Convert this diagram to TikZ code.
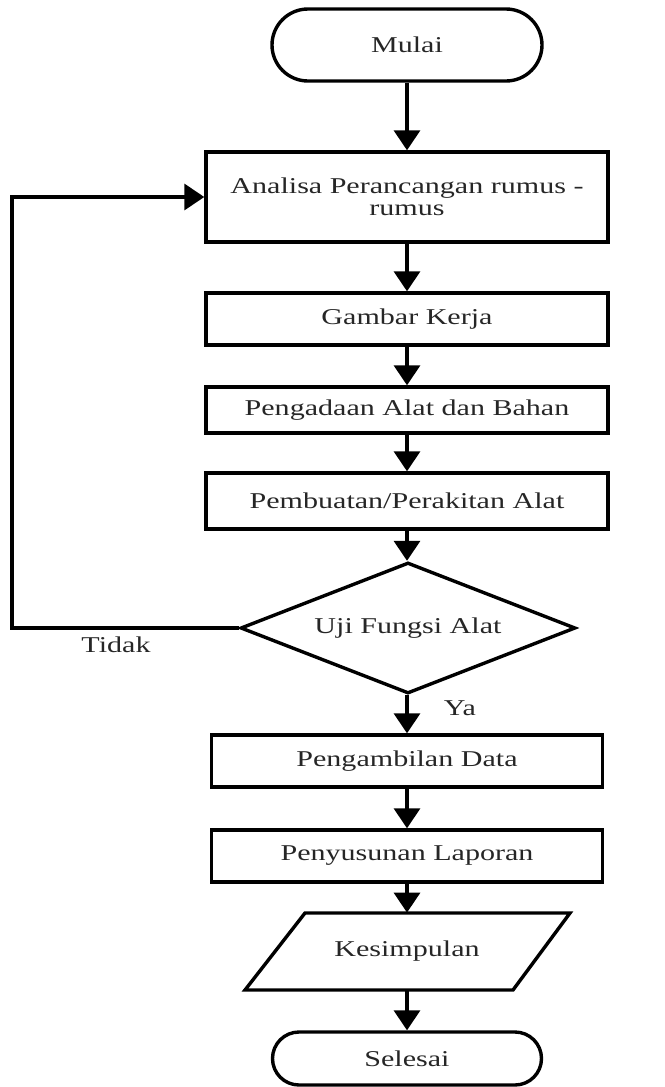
\documentclass[tikz,border=0pt]{standalone}
\usepackage{fontspec}
\setmainfont{Liberation Serif}[FakeStretch=1.33]
\usetikzlibrary{arrows.meta,shapes.geometric}
\begin{document}
\begin{tikzpicture}[x=0.5pt,y=-0.5pt,
  every node/.style={font=\fontsize{11.3pt}{11pt}\selectfont, text=black!85},
  ln/.style={line width=1.7pt},
  proc/.style={ln, draw, rectangle, inner sep=0pt, align=center},
  term/.style={ln, draw, rectangle, inner sep=0pt},
  arr/.style={ln, -{Triangle[length=10pt,width=13pt]}},
]
\useasboundingbox (0,0) rectangle (664,1087);

\node[term, minimum width=135pt, minimum height=36pt, rounded corners=18pt] (mulai) at (407,45) {Mulai};
\node[proc, minimum width=201pt, minimum height=45pt] (analisa) at (407,197) {Analisa Perancangan rumus -\\rumus};
\node[proc, minimum width=201pt, minimum height=26pt] (gambar) at (407,319) {Gambar Kerja};
\node[proc, minimum width=201pt, minimum height=23pt] (pengadaan) at (407,410) {Pengadaan Alat dan Bahan};
\node[proc, minimum width=201pt, minimum height=28pt] (pembuatan) at (407,501) {Pembuatan/Perakitan Alat};
\node[ln, draw, diamond, aspect=2.56, minimum width=167.5pt, minimum height=65.5pt, inner sep=0pt] (uji) at (408,628) {Uji Fungsi Alat};
\node[proc, minimum width=195.5pt, minimum height=26pt] (pengambilan) at (407,761) {Pengambilan Data};
\node[proc, minimum width=195.5pt, minimum height=26pt] (penyusunan) at (407,856) {Penyusunan Laporan};
\node[inner sep=0pt, minimum height=38.5pt] (kes) at (407,951.5) {Kesimpulan};
\draw[ln] (305,913) -- (570,913) -- (513,990) -- (245,990) -- cycle;
\node[term, minimum width=134.5pt, minimum height=26.5pt, rounded corners=13.25pt] (selesai) at (407,1058.5) {Selesai};

\node (tidak) at (116,645) {Tidak};
\node (ya) at (460,708) {Ya};

\draw[arr] (mulai.south) -- (analisa.north);
\draw[arr] (analisa.south) -- (gambar.north);
\draw[arr] (gambar.south) -- (pengadaan.north);
\draw[arr] (pengadaan.south) -- (pembuatan.north);
\draw[arr] (pembuatan.south) -- (uji.north -| pembuatan.south);
\draw[arr] (uji.south -| pengambilan.north) -- (pengambilan.north);
\draw[arr] (pengambilan.south) -- (penyusunan.north);
\draw[arr] (penyusunan.south) -- (kes.north);
\draw[arr] (kes.south) -- (selesai.north);

\coordinate (lx) at (12,628);
\draw[arr] (uji.west) -- (lx) |- (analisa.west);
\end{tikzpicture}
\end{document}
